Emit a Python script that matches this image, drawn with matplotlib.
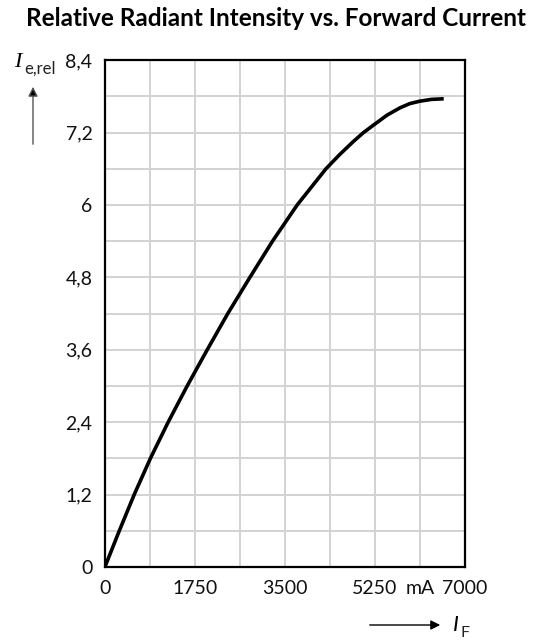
import matplotlib
matplotlib.use("Agg")
import matplotlib.pyplot as plt

# curve
forward_current = [0, 280, 570, 885, 1230, 1600, 1990, 2390, 2820, 3260, 3740,
                   4300, 4560, 4830, 5030, 5250, 5490, 5740, 5930, 6125, 6350, 6590]
rel_intensity = [0, 0.6, 1.2, 1.8, 2.4, 3.0, 3.6, 4.2, 4.8, 5.4, 6.0,
                 6.6, 6.83, 7.05, 7.2, 7.34, 7.49, 7.61, 7.68, 7.72, 7.75, 7.76]

x_ticks = [0, 875, 1750, 2625, 3500, 4375, 5250, 6125, 7000]
x_tick_labels = ["0", "", "1750", "", "3500", "", "5250", "mA", "7000"]
y_ticks = [0, 0.6, 1.2, 1.8, 2.4, 3.0, 3.6, 4.2, 4.8, 5.4, 6.0, 6.6, 7.2, 7.8, 8.4]
y_tick_labels = ["0", "", "1,2", "", "2,4", "", "3,6", "", "4,8", "", "6", "", "7,2", "", "8,4"]

title = "Relative Radiant Intensity vs. Forward Current"

plt.rcParams["font.family"] = ["Lato", "DejaVu Sans"]

fig = plt.figure(figsize=(5.52, 6.4), dpi=100)
ax = fig.add_axes([0.190, 0.114, 0.652, 0.792])

ax.plot(forward_current, rel_intensity, color="black", linewidth=2.6,
        solid_joinstyle="round", solid_capstyle="butt")

ax.set_xlim(0, 7000)
ax.set_ylim(0, 8.4)
ax.set_xticks(x_ticks)
ax.set_xticklabels(x_tick_labels)
ax.set_yticks(y_ticks)
ax.set_yticklabels(y_tick_labels)
ax.tick_params(length=0, labelsize=14, labelcolor="#111111")
ax.tick_params(axis="x", pad=9)
ax.tick_params(axis="y", pad=9)
ax.grid(True, color="#d2d2d2", linewidth=1.4)
ax.set_axisbelow(True)
for s in ax.spines.values():
    s.set_linewidth(1.6)
    s.set_color("black")

fig.text(0.5, 0.971, title, ha="center", va="center", fontsize=17.5,
         fontweight="bold")

# y-axis label with arrow
fig.text(14, 640 - 67, "I", transform=None, fontsize=16, style="italic",
         family="Liberation Serif", ha="left", va="baseline")
fig.text(24, 640 - 74, "e,rel", transform=None, fontsize=12, ha="left",
         va="baseline", color="#222222")
ax.annotate("", xy=(33, 640 - 84), xytext=(33, 640 - 147),
            xycoords="figure pixels", textcoords="figure pixels",
            arrowprops=dict(arrowstyle="-|>", color="#555555", lw=1.0,
                            mutation_scale=14, fc="black"))

# x-axis label with arrow
ax.annotate("", xy=(443, 15), xytext=(367, 15),
            xycoords="figure pixels", textcoords="figure pixels",
            arrowprops=dict(arrowstyle="-|>", color="black", lw=1.0,
                            mutation_scale=14, fc="black"))
fig.text(453, 640 - 631, "I", transform=None, fontsize=16, style="italic",
         ha="left", va="baseline")
fig.text(460, 640 - 637, "F", transform=None, fontsize=11.5, ha="left",
         va="baseline", color="#222222")

fig.savefig("out.png", dpi=100)
